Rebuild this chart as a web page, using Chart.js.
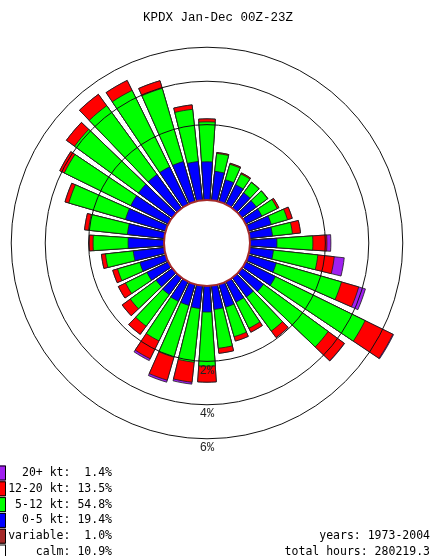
<!DOCTYPE html>
<html>
<head>
    <title>KPDX Wind Rose Jan-Dec 00Z-23Z</title>
    <script src="https://cdn.jsdelivr.net/npm/chart.js"></script>
    <style>
        body { margin: 0; background: #fff; }
    </style>
</head>
<body>
    <canvas id="roseChart" width="435" height="556"></canvas>

    <script>
        // Wind directions, degrees clockwise from north
        const directions = [0, 10, 20, 30, 40, 50, 60, 70, 80, 90, 100, 110,
                            120, 130, 140, 150, 160, 170, 180, 190, 200, 210, 220, 230,
                            240, 250, 260, 270, 280, 290, 300, 310, 320, 330, 340, 350];

        // Percent of hours per direction, by speed band
        const speed0to5 = [0.78, 0.55, 0.41, 0.39, 0.33, 0.31, 0.31, 0.43, 0.41, 0.50, 0.43, 0.55,
                           0.65, 0.50, 0.43, 0.41, 0.43, 0.43, 0.48, 0.41, 0.39, 0.39, 0.37, 0.35,
                           0.43, 0.50, 0.60, 0.72, 0.75, 0.88, 0.88, 0.88, 0.88, 0.88, 0.88, 0.80];
        const speed5to12 = [1.33, 0.48, 0.39, 0.28, 0.29, 0.31, 0.39, 0.42, 0.50, 1.04, 1.31, 2.37,
                            4.15, 2.90, 1.22, 0.77, 0.83, 1.11, 1.71, 1.65, 1.63, 1.26, 1.07, 0.83,
                            0.62, 0.62, 0.81, 1.11, 1.28, 2.22, 2.97, 3.24, 3.57, 3.57, 3.08, 1.87];
        const speed12to20 = [0.12, 0.03, 0.03, 0.03, 0.01, 0.01, 0.05, 0.14, 0.24, 0.52, 0.65, 0.88,
                             1.95, 1.05, 0.30, 0.14, 0.15, 0.18, 0.69, 0.86, 1.03, 0.78, 0.36, 0.33,
                             0.25, 0.16, 0.14, 0.15, 0.16, 0.19, 0.27, 0.56, 0.82, 0.64, 0.43, 0.20];
        const speed20plus = [0, 0, 0, 0, 0, 0, 0, 0, 0, 0.16, 0.44, 0.37,
                             0.05, 0.02, 0, 0, 0, 0, 0, 0.09, 0.10, 0.09, 0, 0,
                             0, 0, 0, 0, 0, 0, 0, 0, 0, 0, 0, 0];

        const ringPercents = [2, 4, 6];

        const legendLabels = ['20+ kt', '12-20 kt', '5-12 kt', '0-5 kt', 'variable', 'calm'];
        const legendValues = ['1.4%', '13.5%', '54.8%', '19.4%', '1.0%', '10.9%'];
        const footerLines = ['years: 1973-2004', 'total hours: 280219.3'];
        const titleText = 'KPDX Jan-Dec 00Z-23Z';

        const colors = {
            purple: '#a020f0',
            red: '#ff0000',
            green: '#00ff00',
            blue: '#0000ff',
            brown: '#a52a2a',
            calm: '#ffffff'
        };
        const legendColors = [colors.purple, colors.red, colors.green, colors.blue, colors.brown, colors.calm];

        // Area-proportional radius: the hole is the zero line
        const HOLE = 43;
        const AREA_PER_PCT = 6080;
        const toRadius = pct => Math.sqrt(HOLE * HOLE + AREA_PER_PCT * pct);

        const BAR_DEG = 7.7;
        const GAP_DEG = 10 - BAR_DEG;

        // cumulative percentages, innermost band first
        function cumulative(bands) {
            return directions.map((d, i) => bands.reduce((s, b) => s + b[i], 0));
        }
        const stacks = [
            { color: colors.blue, cum: cumulative([speed0to5]) },
            { color: colors.green, cum: cumulative([speed0to5, speed5to12]) },
            { color: colors.red, cum: cumulative([speed0to5, speed5to12, speed12to20]) },
            { color: colors.purple, cum: cumulative([speed0to5, speed5to12, speed12to20, speed20plus]) }
        ];

        // every direction is followed by an empty gap slice
        const labels = [];
        directions.forEach(d => { labels.push(d + '°'); labels.push(''); });

        const datasets = stacks.map(s => ({
            data: s.cum.flatMap(v => [toRadius(v), 0]),
            backgroundColor: c => c.index % 2 ? 'rgba(0,0,0,0)' : s.color,
            borderColor: '#1a1a1a',
            borderWidth: c => c.index % 2 ? 0 : 0.8,
            angle: c => c.index % 2 ? GAP_DEG : BAR_DEG
        }));

        const roseDecor = {
            id: 'roseDecor',
            afterDatasetsDraw(chart) {
                const r = chart.scales.r;
                const ctx = chart.ctx;
                const hole = r.getDistanceFromCenterForValue(toRadius(0));
                ctx.save();
                ctx.beginPath();
                ctx.arc(r.xCenter, r.yCenter, hole, 0, Math.PI * 2);
                ctx.fillStyle = '#fff';
                ctx.fill();
                ctx.lineWidth = 2;
                ctx.strokeStyle = colors.brown;
                ctx.stroke();
                ctx.restore();
            },
            afterDraw(chart) {
                const r = chart.scales.r;
                const ctx = chart.ctx;
                ctx.save();
                ctx.textBaseline = 'middle';

                // title
                ctx.fillStyle = '#000';
                ctx.font = '12.5px "Liberation Mono"';
                ctx.textAlign = 'center';
                ctx.fillText(titleText, 218, 18);

                // ring labels below each circle
                ctx.font = '12px "Liberation Mono"';
                ringPercents.forEach(p => {
                    const d = r.getDistanceFromCenterForValue(toRadius(p));
                    ctx.fillStyle = '#222';
                    ctx.fillText(p + '%', r.xCenter, r.yCenter + d + 9);
                });

                // legend
                ctx.font = '11.5px "DejaVu Sans Mono"';
                legendLabels.forEach((lab, i) => {
                    const y = 473 + i * 15.8;
                    ctx.fillStyle = legendColors[i];
                    ctx.fillRect(-3, y - 7.5, 8, 15);
                    ctx.strokeStyle = '#000';
                    ctx.lineWidth = 1;
                    ctx.strokeRect(-3, y - 7, 8.5, 14);
                    ctx.fillStyle = '#000';
                    ctx.textAlign = 'right';
                    ctx.fillText(lab + ': ' + legendValues[i].padStart(5), 112, y);
                });

                footerLines.forEach((t, i) => {
                    ctx.textAlign = 'right';
                    ctx.fillText(t, 430, 473 + (4 + i) * 15.8);
                });
                ctx.restore();
            }
        };

        new Chart(document.getElementById('roseChart').getContext('2d'), {
            type: 'polarArea',
            data: { labels: labels, datasets: datasets },
            options: {
                responsive: false,
                animation: false,
                layout: { padding: { left: 2, right: 23, top: 38, bottom: 108 } },
                plugins: {
                    legend: { display: false },
                    tooltip: { enabled: false },
                    title: { display: false }
                },
                scales: {
                    r: {
                        min: 0,
                        max: 205,
                        startAngle: -BAR_DEG / 2,
                        z: 1,
                        ticks: { display: false },
                        grid: { color: '#111', lineWidth: 1, z: 1 },
                        angleLines: { display: false },
                        pointLabels: { display: false },
                        afterBuildTicks: scale => {
                            scale.ticks = [0].concat(ringPercents.map(toRadius)).map(v => ({ value: v }));
                        }
                    }
                }
            },
            plugins: [roseDecor]
        });
    </script>
</body>
</html>
